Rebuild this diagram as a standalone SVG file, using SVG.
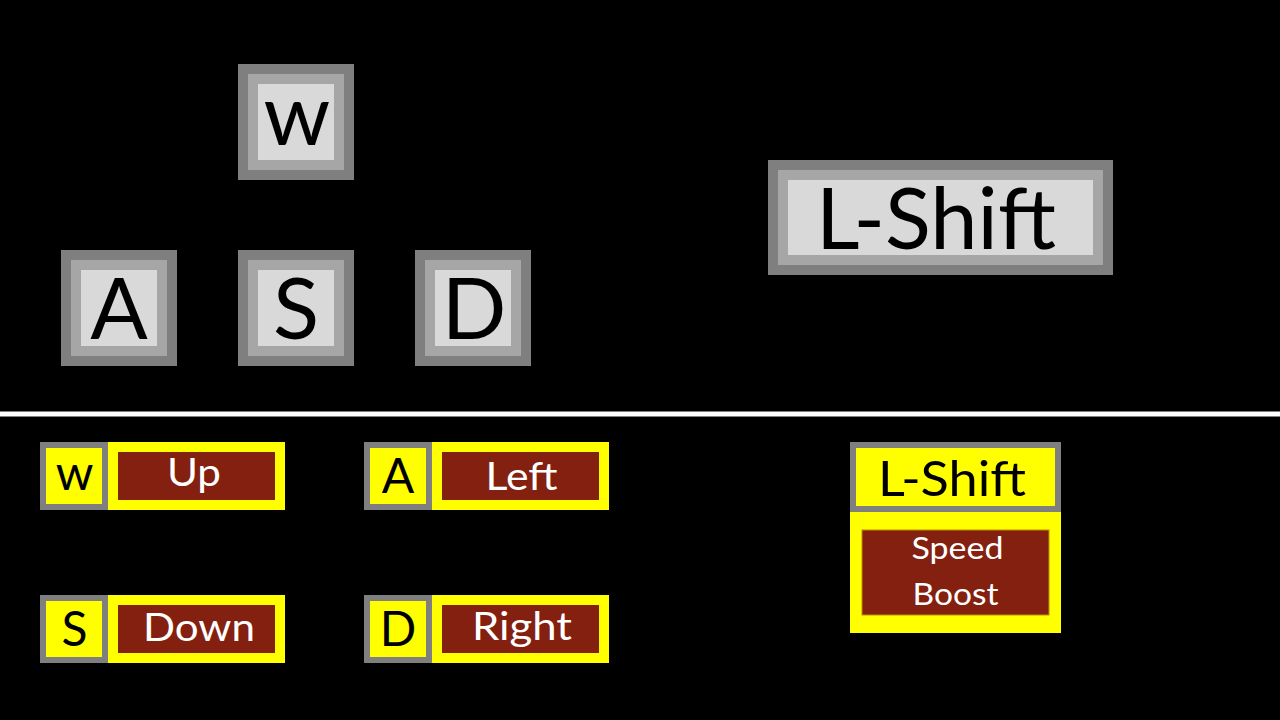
<svg xmlns="http://www.w3.org/2000/svg" width="1280" height="720" viewBox="0 0 1280 720">
<style>
.o{fill:#7F7F7F}
.m{fill:#A6A6A6}
.i{fill:#D9D9D9}
.y{fill:#FFFF00}
.r{fill:#832010}
.t{font-family:Lato,"Open Sans","Liberation Sans",sans-serif;text-anchor:middle}
.big{font-size:85px;fill:#000}
.key{font-size:48px;fill:#000}
.lab{font-size:39px;fill:#fff}
.sp{font-size:30px;fill:#fff}
</style>
<rect width="1280" height="720" fill="#000"/>
<g id="key-w">
<rect class="o" x="238" y="64" width="116" height="116"/>
<rect class="m" x="248" y="74" width="96" height="96"/>
<rect class="i" x="258" y="84" width="76" height="76"/>
<text class="t big" x="297" y="145">w</text>
</g>
<g id="key-a">
<rect class="o" x="61" y="250" width="116" height="116"/>
<rect class="m" x="71" y="260" width="96" height="96"/>
<rect class="i" x="81" y="270" width="76" height="76"/>
<text class="t big" x="119" y="339">A</text>
</g>
<g id="key-s">
<rect class="o" x="238" y="250" width="116" height="116"/>
<rect class="m" x="248" y="260" width="96" height="96"/>
<rect class="i" x="258" y="270" width="76" height="76"/>
<text class="t big" x="296" y="339">S</text>
</g>
<g id="key-d">
<rect class="o" x="415" y="250" width="116" height="116"/>
<rect class="m" x="425" y="260" width="96" height="96"/>
<rect class="i" x="435" y="270" width="76" height="76"/>
<text class="t big" x="474" y="339">D</text>
</g>
<g id="key-lshift">
<rect class="o" x="768" y="160" width="345" height="115"/>
<rect class="m" x="778" y="170" width="325" height="95"/>
<rect class="i" x="788" y="180" width="305" height="75"/>
<text class="t big" x="936" y="249" textLength="240" lengthAdjust="spacingAndGlyphs">L-Shift</text>
</g>
<g id="divider">
<rect x="0" y="411.5" width="1280" height="5" fill="#fff"/>
</g>
<g id="legend-w">
<rect class="o" x="40" y="442" width="68" height="68"/>
<rect class="y" x="46" y="448" width="56" height="56"/>
<rect class="y" x="108" y="442" width="177" height="68"/>
<rect class="r" x="118" y="452" width="157" height="48"/>
<text class="t key" x="74.5" y="490">w</text>
<text class="t lab" x="194" y="486" textLength="54" lengthAdjust="spacingAndGlyphs">Up</text>
</g>
<g id="legend-a">
<rect class="o" x="364" y="442" width="68" height="68"/>
<rect class="y" x="370" y="448" width="56" height="56"/>
<rect class="y" x="432" y="442" width="177" height="68"/>
<rect class="r" x="442" y="452" width="157" height="48"/>
<text class="t key" x="398" y="493">A</text>
<text class="t lab" x="521.5" y="490" textLength="72" lengthAdjust="spacingAndGlyphs">Left</text>
</g>
<g id="legend-s">
<rect class="o" x="40" y="595" width="68" height="68"/>
<rect class="y" x="46" y="601" width="56" height="56"/>
<rect class="y" x="108" y="595" width="177" height="68"/>
<rect class="r" x="118" y="605" width="157" height="48"/>
<text class="t key" x="74.5" y="646">S</text>
<text class="t lab" x="199" y="641" textLength="112" lengthAdjust="spacingAndGlyphs">Down</text>
</g>
<g id="legend-d">
<rect class="o" x="364" y="595" width="68" height="68"/>
<rect class="y" x="370" y="601" width="56" height="56"/>
<rect class="y" x="432" y="595" width="177" height="68"/>
<rect class="r" x="442" y="605" width="157" height="48"/>
<text class="t key" x="398" y="646">D</text>
<text class="t lab" x="522" y="640" textLength="100" lengthAdjust="spacingAndGlyphs">Right</text>
</g>
<g id="legend-lshift">
<rect class="o" x="850" y="442" width="211" height="70"/>
<rect class="y" x="856" y="448" width="199" height="58"/>
<rect class="y" x="850" y="512" width="211" height="121"/>
<rect class="r" x="862" y="530" width="187" height="85" stroke="#BF9000" stroke-width="1"/>
<text class="t key" x="952" y="496" textLength="148" lengthAdjust="spacingAndGlyphs">L-Shift</text>
<text class="t sp" x="957.5" y="559" textLength="92" lengthAdjust="spacingAndGlyphs">Speed</text>
<text class="t sp" x="955.5" y="605" textLength="86" lengthAdjust="spacingAndGlyphs">Boost</text>
</g>
</svg>
